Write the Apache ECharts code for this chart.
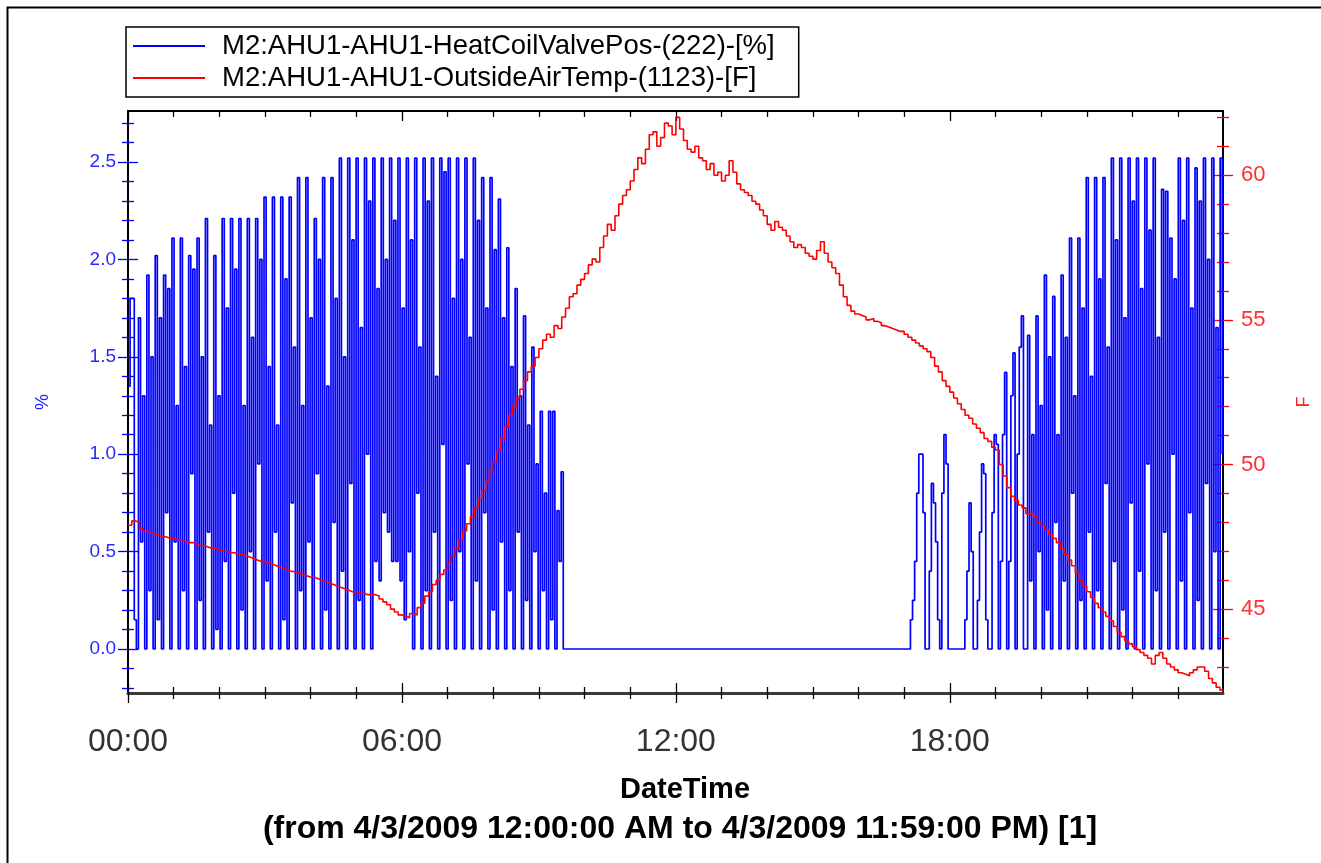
<!DOCTYPE html>
<html>
<head>
<meta charset="utf-8">
<script src="https://cdn.jsdelivr.net/npm/echarts@6/dist/echarts.min.js"></script>
<style>
html,body{margin:0;padding:0;background:#fff;}
#chart{width:1321px;height:863px;}
</style>
</head>
<body>
<div id="chart"></div>
<script>
// ---------------- DATA ----------------
const seriesNames = [
  'M2:AHU1-AHU1-HeatCoilValvePos-(222)-[%]',
  'M2:AHU1-AHU1-OutsideAirTemp-(1123)-[F]'
];
// time in minutes after midnight; valve samples every 2.75 min
const sampleStep = 2.75;
const blueAMStart = 0;      // 00:00
const bluePMStart = 1020;   // 17:00
const blueAM = [
  1.35,1.8,1.8,0.15,  0,1.7,0.55,1.3,  0,1.92,0.3,1.5,  0,2.02,0.15,1.7,
  0,1.92,0.7,1.85,  0,2.11,0.55,1.25,  0,2.11,0.3,1.45,  0,2.02,0.9,1.95,
  0,2.11,0.25,1.5,  0,2.21,0.6,1.15,  0,2.02,0.1,1.3,  0,2.21,0.45,1.75,
  0,2.21,0.8,1.95,  0,2.21,0.2,1.25,  0,2.21,0.5,1.6,  0,2.21,0.95,2.0,
  0,2.32,0.35,1.45,  0,2.32,0.6,1.15,  0,2.32,0.15,1.9,  0,2.32,0.75,1.55,
  0,2.42,0.3,1.25,  0,2.42,0.55,1.7,  0,2.21,0.9,2.0,  0,2.42,0.2,1.35,
  0,2.42,0.65,1.8,  0,2.52,0.4,1.5,  0,2.52,0.85,2.1,  0,2.52,0.25,1.65,
  0,2.52,1.0,2.3,  0,2.52,0.45,1.85,  0.35,2.52,0.7,2.0,  0.6,2.52,0.45,2.2,
  0.45,2.52,0.35,1.75,  0.15,2.52,0.5,2.1,  0,2.52,0.8,1.55,  0,2.52,0.3,2.3,
  0,2.52,0.6,1.4,  0,2.52,1.05,2.45,  0,2.52,0.25,1.8,  0,2.52,0.5,2.0,
  0,2.52,0.95,1.6,  0,2.52,0.35,2.2,  0,2.42,0.7,1.75,  0,2.42,0.2,2.05,
  0,2.31,0.55,1.7,  0,2.06,0.3,1.45,  0,1.85,0.6,1.3,  0,1.71,0.25,1.15,
  0,1.55,0.5,0.95,  0,1.22,0.3,0.8,  0,1.22,0.15,1.22,  0,0.71,0.45,0.91,
  0,0,0,0
];
const bluePM = [
  0,0,0,0.15,0.25,0.45,0.8,1.0,1.0,0.7,0,0,
  0.4,0.85,0.75,0.55,0.15,0,0.8,1.1,0.95,0,
  0,0,0,0,0,0,0,
  0.15,0.4,0.75,0.5,0,0,
  0.25,0.6,0.95,0.9,0.15,0,0,
  0.7,1.1,1.05,0,
  0.45,1.1,1.42,0,
  0.45,1.3,1.52,0,
  1.0,1.55,1.71,0,
  0,1.61,0.35,1.1,  0,1.71,0.5,1.25,  0,1.92,0.2,1.5,  0,1.81,0.65,1.1,
  0,1.92,0.35,1.6,  0,2.11,0.8,1.3,  0,2.11,0.25,1.75,  0,2.42,0.6,1.4,
  0,2.42,0.3,1.9,  0,2.42,0.85,1.55,  0,2.52,0.45,2.1,  0,2.52,0.2,1.7,
  0,2.52,0.75,2.3,  0,2.52,0.4,1.85,  0,2.52,0.95,2.15,  0,2.52,0.3,1.6,
  0,2.36,0.6,2.35,  0,2.11,1.0,1.9,  0,2.52,0.35,2.2,  0,2.52,0.7,1.75,
  0,2.47,0.25,2.3,  0,2.52,0.85,2.0,  0,2.52,0.5,1.65,  0,2.52,1.0
];
// outside air temperature every 5 minutes from 00:00 (F)
const tempStep = 5;
const tempF = [
  47.9,48.05,48.0,47.8,47.7,47.65,47.6,47.55,47.5,47.5,47.45,47.45,
  47.4,47.4,47.35,47.3,47.3,47.25,47.2,47.2,47.15,47.1,47.1,47.05,
  47.0,47.0,46.95,46.95,46.9,46.9,46.85,46.8,46.75,46.7,46.65,46.65,
  46.6,46.55,46.5,46.45,46.4,46.35,46.3,46.3,46.25,46.2,46.15,46.1,
  46.1,46.05,46.0,45.95,45.9,45.85,45.8,45.75,45.7,45.65,45.6,45.6,
  45.55,45.55,45.5,45.5,45.5,45.45,45.35,45.25,45.15,45.0,44.9,44.8,
  44.75,44.7,44.85,44.8,45.05,45.2,45.45,45.6,45.85,46.0,46.2,46.35,
  46.6,46.85,47.1,47.4,47.7,47.95,48.2,48.5,48.8,49.1,49.4,49.8,
  50.1,50.5,50.9,51.3,51.7,52.0,52.3,52.6,52.9,53.2,53.4,53.7,
  54.0,54.3,54.5,54.4,54.8,54.7,55.1,55.4,55.8,55.9,56.2,56.4,
  56.6,56.9,57.1,57.0,57.5,57.9,58.3,58.1,58.6,59.0,59.3,59.5,
  59.8,60.2,60.6,60.4,60.9,61.4,61.5,61.0,61.3,61.8,61.7,61.4,
  62.0,61.6,61.2,60.9,60.8,61.0,60.6,60.5,60.2,60.4,60.0,60.1,
  59.8,60.0,60.5,60.1,59.7,59.5,59.4,59.3,59.1,59.0,58.8,58.6,
  58.3,58.1,58.4,58.2,58.1,57.9,57.7,57.5,57.6,57.5,57.3,57.2,
  57.1,57.4,57.7,57.3,57.0,56.8,56.6,56.2,55.8,55.5,55.3,55.2,
  55.15,55.1,55.0,55.05,54.95,54.9,54.8,54.75,54.7,54.65,54.6,54.6,
  54.5,54.4,54.3,54.2,54.1,54.0,53.9,53.7,53.4,53.2,52.9,52.7,
  52.5,52.3,52.1,51.9,51.7,51.6,51.4,51.25,51.1,50.9,50.8,50.6,
  50.5,50.0,49.6,49.2,48.9,48.75,48.6,48.5,48.3,48.3,48.2,48.0,
  47.9,47.75,47.6,47.45,47.3,47.1,46.9,46.7,46.5,46.25,46.0,45.8,
  45.6,45.4,45.2,45.05,44.9,44.75,44.6,44.4,44.2,44.05,43.9,43.8,
  43.7,43.6,43.5,43.4,43.3,43.1,43.4,43.5,43.3,43.1,43.0,42.9,
  42.8,42.75,42.7,42.8,42.9,43.0,43.0,42.85,42.6,42.45,42.3,42.2
];
const tempLast = [1439, 42.15];

// axis ticks / labels
const xMajorTicks = [0, 360, 720, 1080];
const xTickLabels = ['00:00', '06:00', '12:00', '18:00'];
const xMinorTicks = [60,120,180,240,300,420,480,540,600,660,780,840,900,960,1020,1140,1200,1260,1320,1380];
const leftMajorTicks = [0, 0.5, 1.0, 1.5, 2.0, 2.5];
const leftMinorTicks = [-0.2,-0.1,0.1,0.2,0.3,0.4,0.6,0.7,0.8,0.9,1.1,1.2,1.3,1.4,1.6,1.7,1.8,1.9,2.1,2.2,2.3,2.4,2.6,2.7];
const rightMajorTicks = [45, 50, 55, 60];
const rightMinorTicks = [43,44,46,47,48,49,51,52,53,54,56,57,58,59,61,62];
const xTitle = 'DateTime';
const xSubtitle = '(from 4/3/2009 12:00:00 AM to 4/3/2009 11:59:00 PM) [1]';
const leftName = '%';
const rightName = 'F';

// ---------------- BUILD ----------------
const blueData = blueAM.map((v, i) => [blueAMStart + i * sampleStep, v])
  .concat(bluePM.map((v, i) => [bluePMStart + i * sampleStep, v]));
const redData = tempF.map((v, i) => [i * tempStep, v]).concat([tempLast]);

const X_MIN = 0, X_MAX = 1439;
const L_MIN = -0.226, L_MAX = 2.762;
const R_MIN = 42.10, R_MAX = 62.22;
const FONT = 'Liberation Sans, Arial, sans-serif';

function xAx(position, inside, length, ticks, extra) {
  return Object.assign({
    type: 'value', min: X_MIN, max: X_MAX, position: position,
    axisLine: { show: false, onZero: false },
    axisTick: { show: true, inside: inside, length: length, customValues: ticks,
      lineStyle: { color: '#000', width: 1.3 } },
    axisLabel: { show: false }, splitLine: { show: false }
  }, extra || {});
}
function yAx(position, min, max, inside, length, ticks, color, extra) {
  return Object.assign({
    type: 'value', min: min, max: max, position: position,
    axisLine: { show: false, onZero: false },
    axisTick: { show: true, inside: inside, length: length, customValues: ticks,
      lineStyle: { color: color, width: 1.3 } },
    axisLabel: { show: false }, splitLine: { show: false }
  }, extra || {});
}

const xAxes = [
  xAx('bottom', false, 10, xMajorTicks, {
    axisLine: { show: true, onZero: false, lineStyle: { color: '#3a3a3a', width: 3 } },
    axisLabel: { show: true, customValues: xMajorTicks, margin: 33,
      formatter: v => xTickLabels[xMajorTicks.indexOf(v)],
      fontFamily: FONT, fontSize: 32, color: '#333' }
  }),
  xAx('bottom', true, 10, xMajorTicks),
  xAx('bottom', false, 6, xMinorTicks),
  xAx('bottom', true, 6, xMinorTicks),
  xAx('top', true, 10, xMajorTicks),
  xAx('top', true, 6, xMinorTicks)
];
const yAxes = [
  yAx('left', L_MIN, L_MAX, false, 10, leftMajorTicks, '#0000ff', {
    name: leftName, nameLocation: 'middle', nameGap: 76, nameRotate: 90,
    nameTextStyle: { color: '#2020ff', fontFamily: FONT, fontSize: 18 },
    axisLabel: { show: true, customValues: leftMajorTicks, margin: 12,
      formatter: v => v.toFixed(1), fontFamily: FONT, fontSize: 19, color: '#2a2aff' }
  }),
  yAx('left', L_MIN, L_MAX, true, 10, leftMajorTicks, '#0000ff'),
  yAx('left', L_MIN, L_MAX, false, 6, leftMinorTicks, '#0000ff'),
  yAx('left', L_MIN, L_MAX, true, 6, leftMinorTicks, '#0000ff'),
  yAx('right', R_MIN, R_MAX, false, 10, rightMajorTicks, '#ff0000', {
    name: rightName, nameLocation: 'middle', nameGap: 72, nameRotate: 90,
    nameTextStyle: { color: '#ff2020', fontFamily: FONT, fontSize: 18 },
    axisLabel: { show: true, customValues: rightMajorTicks, margin: 18,
      formatter: v => String(v), fontFamily: FONT, fontSize: 22, color: '#ff3030' }
  }),
  yAx('right', R_MIN, R_MAX, true, 10, rightMajorTicks, '#ff0000'),
  yAx('right', R_MIN, R_MAX, false, 6, rightMinorTicks, '#ff0000'),
  yAx('right', R_MIN, R_MAX, true, 6, rightMinorTicks, '#ff0000')
];

const chart = echarts.init(document.getElementById('chart'), null, { renderer: 'canvas' });
chart.setOption({
  animation: false,
  backgroundColor: '#fff',
  grid: { left: 128, right: 94, top: 111, bottom: 170, show: true,
    borderColor: '#000', borderWidth: 2, backgroundColor: 'transparent' },
  graphic: [{
    type: 'rect', left: 5, top: 5, silent: true, z: -10,
    shape: { width: 1340, height: 900 },
    style: { fill: 'none', stroke: '#000', lineWidth: 2 }
  }],
  title: [
    { text: xTitle, left: 680, top: 770, textAlign: 'center',
      textStyle: { fontFamily: FONT, fontSize: 29, fontWeight: 'bold', color: '#000' } },
    { text: xSubtitle, left: 675, top: 808, textAlign: 'center',
      textStyle: { fontFamily: FONT, fontSize: 32, fontWeight: 'bold', color: '#000' } }
  ],
  legend: {
    left: 126, top: 27, orient: 'vertical',
    data: seriesNames,
    icon: 'rect', itemWidth: 72, itemHeight: 2, itemGap: 4,
    padding: [5, 24, 5, 7],
    borderColor: '#000', borderWidth: 1.5, backgroundColor: '#fff',
    textStyle: { fontFamily: FONT, fontSize: 27.5, color: '#000', padding: [0, 0, 0, 12] },
    selectedMode: false
  },
  xAxis: xAxes,
  yAxis: yAxes,
  series: [
    { name: seriesNames[0], type: 'line', xAxisIndex: 0, yAxisIndex: 0,
      data: blueData, step: 'end', showSymbol: false, symbol: 'none',
      lineStyle: { color: '#0000ff', width: 1.7 }, itemStyle: { color: '#0000ff' },
      z: 2 },
    { name: seriesNames[1], type: 'line', xAxisIndex: 0, yAxisIndex: 4,
      data: redData, step: 'end', showSymbol: false, symbol: 'none',
      lineStyle: { color: '#ff0000', width: 1.6 }, itemStyle: { color: '#ff0000' },
      z: 3 }
  ]
});
</script>
</body>
</html>
